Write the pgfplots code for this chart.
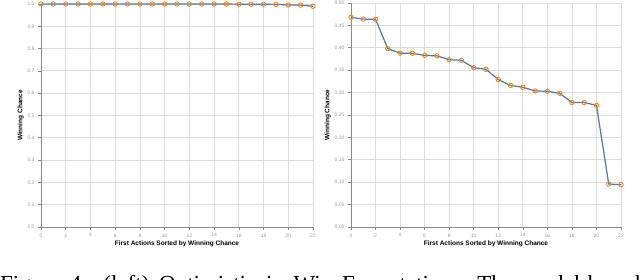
\documentclass[border=0pt]{standalone}
\usepackage{pgfplots}
\pgfplotsset{compat=1.18}
\usepackage{fontspec}
\setmainfont{Liberation Sans}
\newfontfamily\capfont{Liberation Serif}
\definecolor{vblue}{HTML}{4C78A8}
\definecolor{vorange}{HTML}{F58518}
\definecolor{gridc}{HTML}{DDDDDD}
\definecolor{axc}{HTML}{888888}
\begin{document}
\begin{tikzpicture}
\pgfplotsset{
  myax/.style={
    scale only axis,
    axis lines=left,
    axis line style={-, axc, line width=0.9pt},
    xmin=0, xmax=22,
    xtick={0,2,...,22},
    ymajorgrids, xmajorgrids,
    grid style={gridc, line width=0.8pt},
    tick style={axc, line width=0.6pt},
    major tick length=3pt,
    tick align=outside,
    tick label style={font=\fontsize{5}{6}\selectfont, text=gray!80},
    /pgf/number format/assume math mode=true,
    label style={font=\fontsize{6.5}{8}\selectfont\bfseries},
    xlabel={First Actions Sorted by Winning Chance},
    ylabel={Winning Chance},
    xlabel style={yshift=3pt},
    ylabel style={yshift=-3pt},
    clip=false,
  },
  myline/.style={vblue, line width=1.2pt, mark=o, mark size=2.2pt,
    mark options={vorange, line width=0.9pt, fill=white}},
}
\begin{axis}[myax, at={(41pt,53pt)}, anchor=south west, width=272pt, height=223pt,
  ymin=0, ymax=1,
  ytick={0,0.1,...,1.0},
  yticklabel style={/pgf/number format/.cd, fixed, fixed zerofill, precision=1},
]
\addplot[myline] coordinates {
(0,1.0) (1,1.0) (2,1.0) (3,1.0) (4,1.0) (5,1.0) (6,1.0) (7,1.0) (8,1.0) (9,1.0)
(10,1.0) (11,1.0) (12,1.0) (13,1.0) (14,1.0) (15,1.0) (16,0.999) (17,0.999)
(18,0.999) (19,0.998) (20,0.996) (21,0.995) (22,0.990)
};
\end{axis}
\begin{axis}[myax, at={(351pt,53pt)}, anchor=south west, width=270pt, height=224pt,
  ymin=0, ymax=0.5,
  ytick={0,0.05,...,0.51},
  yticklabel style={/pgf/number format/.cd, fixed, fixed zerofill, precision=2},
]
\addplot[myline] coordinates {
(0,0.468) (1,0.464) (2,0.4636) (3,0.398) (4,0.388) (5,0.3877) (6,0.383)
(7,0.382) (8,0.3735) (9,0.372) (10,0.3556) (11,0.352) (12,0.329) (13,0.316)
(14,0.312) (15,0.3036) (16,0.303) (17,0.2984) (18,0.278) (19,0.2777)
(20,0.2716) (21,0.096) (22,0.0944)
};
\end{axis}
\node[anchor=base west, inner sep=0pt, font=\capfont\fontsize{23}{26}\selectfont] at (0pt,-12pt)
  {\makebox[640pt][s]{Figure 4: (left) Optimistic in Win Expectation. The model-based}};
\pgfresetboundingbox
\useasboundingbox (0pt,0pt) rectangle (640pt,280pt);
\end{tikzpicture}
\end{document}
